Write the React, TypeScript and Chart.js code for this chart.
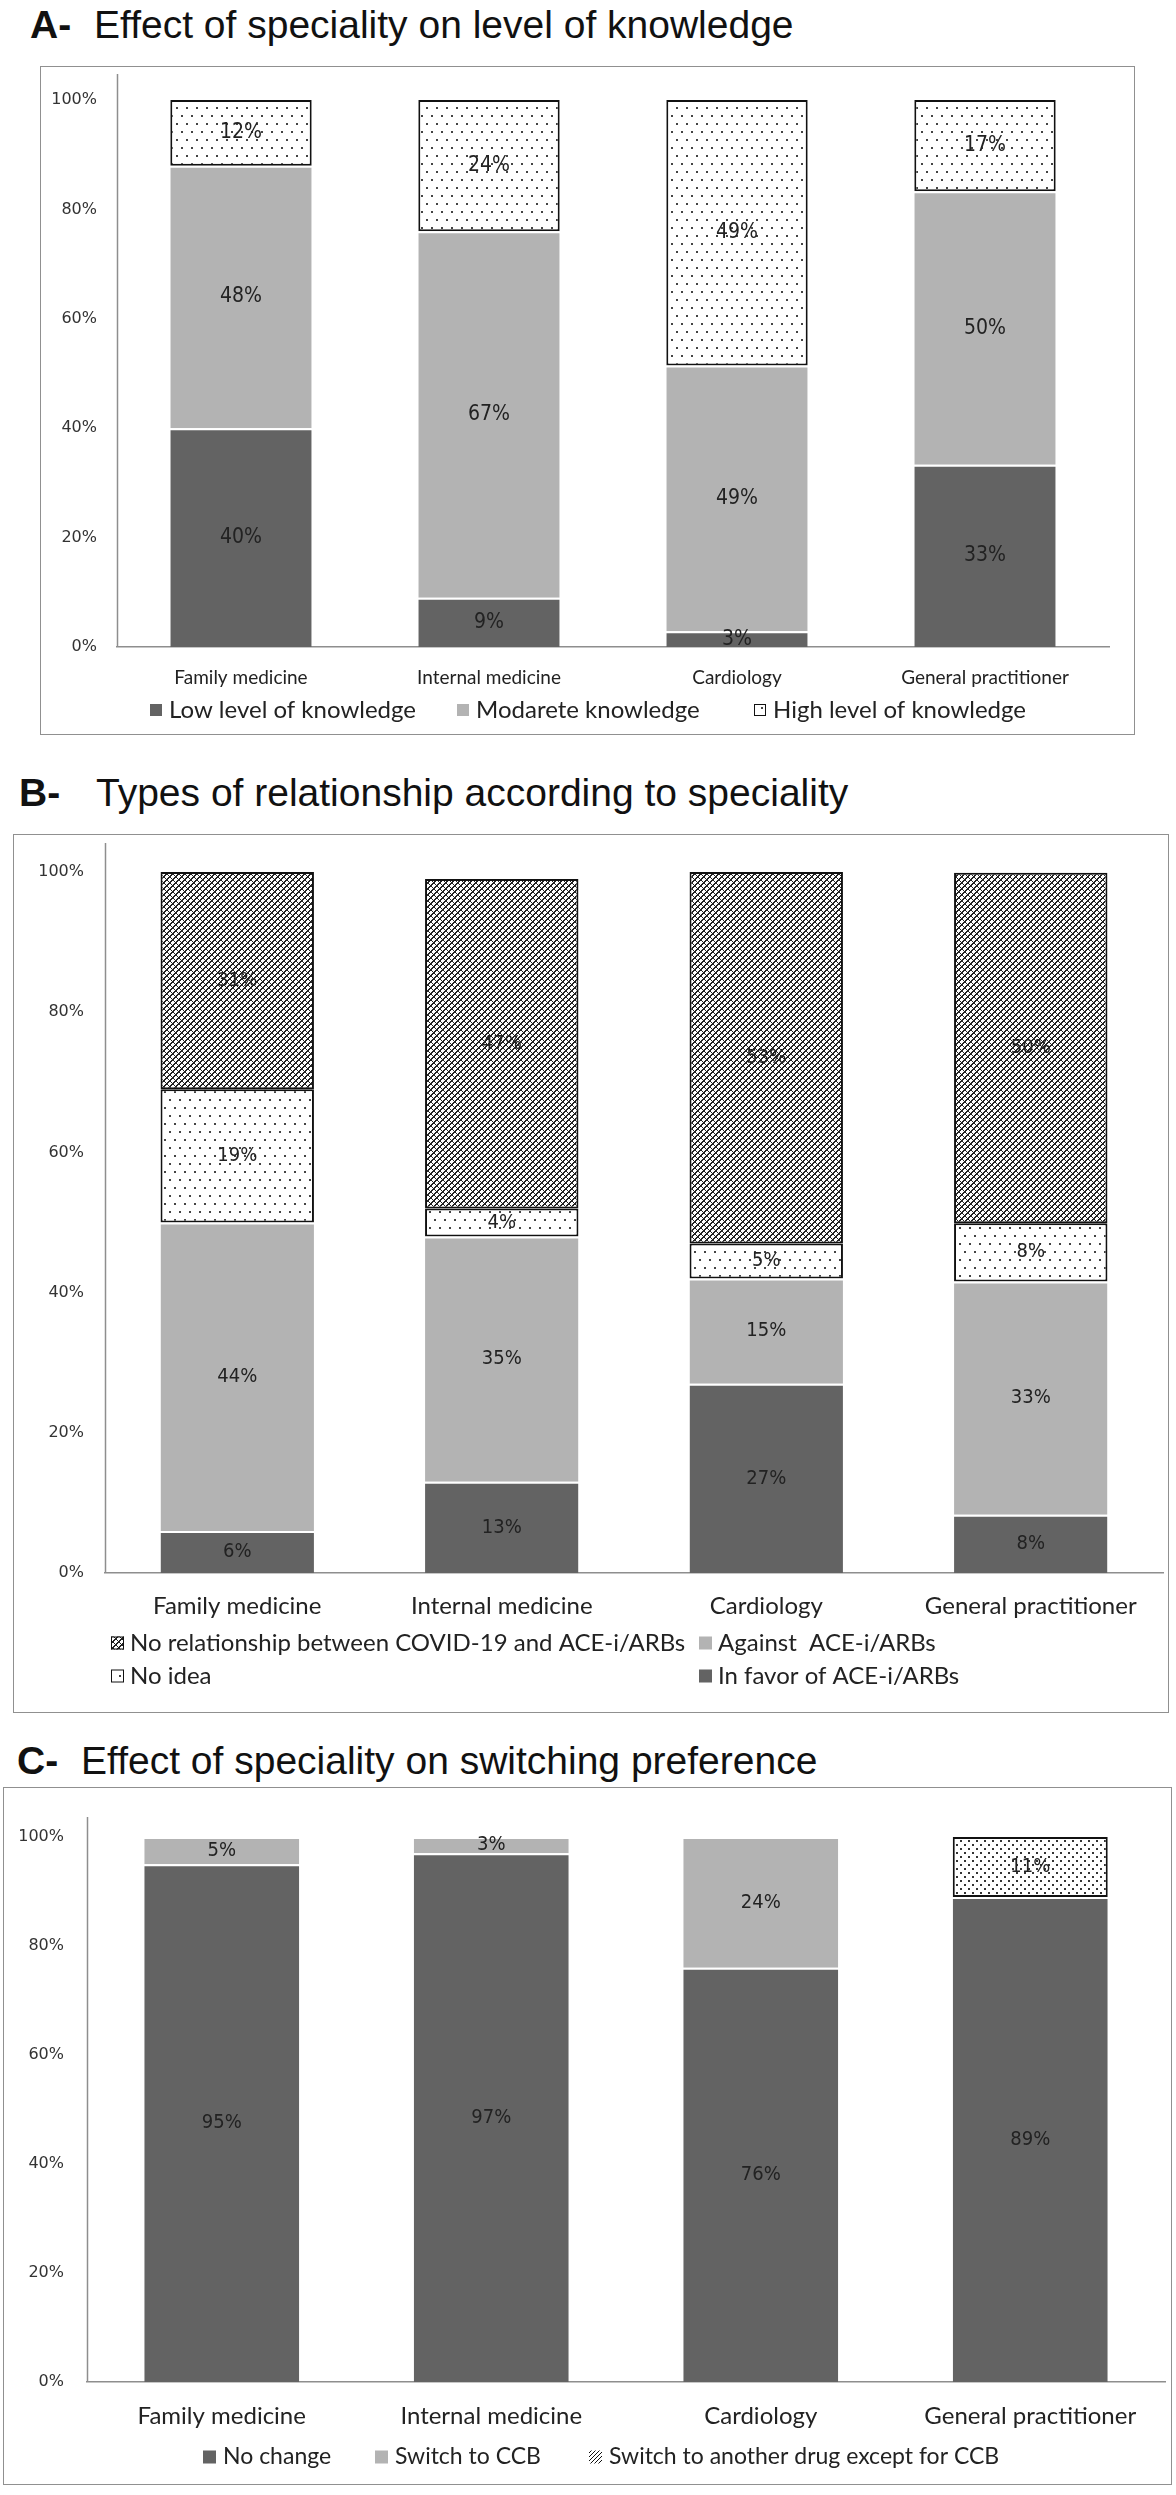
import React, { useEffect, useRef } from 'react';
import { Chart, registerables } from 'chart.js';

Chart.register(...registerables);

// ---------- shared data ----------
const categories = ['Family medicine', 'Internal medicine', 'Cardiology', 'General practitioner'];
const yTickLabels = ['0%', '20%', '40%', '60%', '80%', '100%'];

// ---------- Panel A : level of knowledge (%) ----------
const knowLow = [40, 9, 2.9, 33.3];
const knowModerate = [48, 67, 48.6, 50];
const knowHigh = [12, 24, 48.6, 16.7];
const knowLegend = ['Low level of knowledge', 'Modarete knowledge', 'High level of knowledge'];

// ---------- Panel B : type of relationship (%) ----------
const relInFavor = [6, 13, 27, 8.3];
const relAgainst = [44, 35, 15, 33.3];
const relNoIdea = [19, 4, 5, 8.3];
const relNoRelationship = [31, 47, 53, 50];
const relLegend = [
  'No relationship between COVID-19 and ACE-i/ARBs',
  'Against  ACE-i/ARBs',
  'No idea',
  'In favor of ACE-i/ARBs',
];

// ---------- Panel C : switching preference (%) ----------
const swNoChange = [95, 97, 76, 89];
const swCCB = [5, 3, 24, 0];
const swOther = [0, 0, 0, 11];
const swLegend = ['No change', 'Switch to CCB', 'Switch to another drug except for CCB'];

// ---------- styles ----------
const DARK = '#636363';
const LIGHT = '#b3b3b3';
const TEXT = '#222222';
const AXIS = '#8e8e8e';

function makeTile(w: number, h: number, draw: (g: CanvasRenderingContext2D) => void) {
  const c = document.createElement('canvas');
  c.width = w;
  c.height = h;
  const g = c.getContext('2d')!;
  draw(g);
  return c;
}

function dotPattern(ctx: CanvasRenderingContext2D, sx: number, sy: number, size: number, color: string) {
  const tile = makeTile(sx, sy * 2, (g) => {
    g.fillStyle = '#ffffff';
    g.fillRect(0, 0, sx, sy * 2);
    g.fillStyle = color;
    g.fillRect(1, 1, size, size);
    g.fillRect(1 + sx / 2, 1 + sy, size, size);
  });
  return ctx.createPattern(tile, 'repeat')!;
}

function crossPattern(ctx: CanvasRenderingContext2D) {
  const p = 6;
  const tile = makeTile(p, p, (g) => {
    g.fillStyle = '#ffffff';
    g.fillRect(0, 0, p, p);
    g.fillStyle = '#222222';
    for (let x = 0; x < p; x++) {
      for (let y = 0; y < p; y++) {
        if ((x + y) % p < 2 || (x - y + 2 * p) % p < 1) g.fillRect(x, y, 1, 1);
      }
    }
  });
  return ctx.createPattern(tile, 'repeat')!;
}

function diagPattern(ctx: CanvasRenderingContext2D) {
  const p = 4;
  const tile = makeTile(p, p, (g) => {
    g.fillStyle = '#ffffff';
    g.fillRect(0, 0, p, p);
    g.fillStyle = '#111111';
    for (let x = 0; x < p; x++) {
      for (let y = 0; y < p; y++) {
        if ((x + y) % p === p - 1) g.fillRect(x, y, 1, 1);
      }
    }
  });
  return ctx.createPattern(tile, 'repeat')!;
}

// ---------- plugins ----------
const segmentLabels = {
  id: 'segmentLabels',
  afterDatasetsDraw(chart: any, _a: any, opts: any) {
    const { ctx } = chart;
    ctx.save();
    ctx.font = opts.font;
    ctx.fillStyle = opts.color;
    ctx.textAlign = 'center';
    ctx.textBaseline = 'middle';
    chart.data.datasets.forEach((ds: any, i: number) => {
      const meta = chart.getDatasetMeta(i);
      meta.data.forEach((el: any, j: number) => {
        const v = Math.round(ds.labelValues[j]);
        if (!v) return;
        const { x, y, base } = el.getProps(['x', 'y', 'base'], true);
        ctx.fillText(v + '%', x, (y + base) / 2 + (opts.dy || 0));
      });
    });
    ctx.restore();
  },
};

const axisLine = {
  id: 'axisLine',
  afterDraw(chart: any, _a: any, opts: any) {
    const { ctx, chartArea } = chart;
    ctx.save();
    ctx.strokeStyle = opts.color;
    ctx.lineWidth = opts.width;
    ctx.beginPath();
    const x = Math.round(chartArea.left) + 0.5;
    ctx.moveTo(x, chartArea.top - opts.extend);
    ctx.lineTo(x, chartArea.bottom);
    ctx.stroke();
    ctx.restore();
  },
};

type LegendItem = { dataset: number; text: string; x: number; y: number; outline?: boolean; swatch?: any };

function makeLegend(font: string, box: number, gap: number, items: LegendItem[]) {
  return {
    id: 'gridLegend',
    afterDraw(chart: any) {
      const { ctx } = chart;
      ctx.save();
      ctx.font = font;
      ctx.textBaseline = 'middle';
      ctx.textAlign = 'left';
      items.forEach((it) => {
        const ds = chart.data.datasets[it.dataset];
        ctx.fillStyle = it.swatch ? it.swatch : ds.backgroundColor;
        ctx.fillRect(it.x, it.y - box / 2, box, box);
        if (it.outline) {
          ctx.strokeStyle = '#111111';
          ctx.lineWidth = 1;
          ctx.strokeRect(it.x + 0.5, it.y - box / 2 + 0.5, box - 1, box - 1);
        }
        ctx.fillStyle = TEXT;
        ctx.fillText(it.text, it.x + box + gap, it.y);
      });
      ctx.restore();
    },
  };
}

function solidSet(label: string, values: number[], shown: number[], color: string) {
  return {
    label,
    data: values,
    labelValues: shown,
    backgroundColor: color,
    borderColor: '#ffffff',
    borderWidth: { top: 2, left: 0, right: 0, bottom: 0 },
    borderSkipped: false,
  };
}

function patternSet(label: string, values: number[], shown: number[], pattern: CanvasPattern) {
  return {
    label,
    data: values,
    labelValues: shown,
    backgroundColor: pattern,
    borderColor: '#111111',
    borderWidth: 2,
    borderSkipped: false,
  };
}

function baseOptions(p: any) {
  return {
    responsive: false,
    maintainAspectRatio: false,
    animation: false,
    layout: { padding: { top: p.padTop, right: p.padRight, left: 0, bottom: 0 } },
    datasets: { bar: { categoryPercentage: 1, barPercentage: p.barPct } },
    plugins: {
      legend: { display: false },
      tooltip: { enabled: false },
      title: { display: false },
      segmentLabels: { font: p.labelFont, color: TEXT, dy: 0 },
      axisLine: { color: AXIS, width: 1.5, extend: p.axisExt },
    },
    scales: {
      x: {
        stacked: true,
        grid: { display: false, drawTicks: false },
        border: { display: true, color: AXIS, width: 1.5 },
        ticks: {
          font: { family: 'Lato', size: p.catSize },
          color: TEXT,
          padding: p.xPad,
          maxRotation: 0,
          autoSkip: false,
        },
        afterFit: (s: any) => {
          s.height = p.xHeight;
        },
      },
      y: {
        stacked: true,
        min: 0,
        max: 100,
        grid: { display: false, drawTicks: false },
        border: { display: false },
        ticks: {
          stepSize: 20,
          callback: (_v: any, i: number) => yTickLabels[i],
          font: { family: 'DejaVu Sans', size: 16 },
          color: '#333333',
          padding: p.yPad,
        },
        afterFit: (s: any) => {
          s.width = p.yWidth;
        },
      },
    },
  };
}

// ---------- chart configs ----------
function buildA(ctx: CanvasRenderingContext2D) {
  const totals = categories.map((_, i) => knowLow[i] + knowModerate[i] + knowHigh[i]);
  const share = (arr: number[]) => arr.map((v, i) => (v / totals[i]) * 100);
  const dots = dotPattern(ctx, 10, 8, 2, '#444444');
  return {
    type: 'bar',
    data: {
      labels: categories,
      datasets: [
        solidSet(knowLegend[0], share(knowLow), knowLow, DARK),
        solidSet(knowLegend[1], share(knowModerate), knowModerate, LIGHT),
        patternSet(knowLegend[2], share(knowHigh), knowHigh, dots),
      ],
    },
    options: baseOptions({
      padTop: 34,
      padRight: 26,
      yWidth: 77,
      xHeight: 88,
      xPad: 19,
      yPad: 20,
      catSize: 19,
      barPct: 0.57,
      axisExt: 26,
      labelFont: '21px "DejaVu Sans Condensed", "DejaVu Sans", sans-serif',
    }),
    plugins: [
      segmentLabels,
      axisLine,
      makeLegend('24px Lato, sans-serif', 12, 7, [
        { dataset: 0, text: knowLegend[0], x: 110, y: 644 },
        { dataset: 1, text: knowLegend[1], x: 417, y: 644 },
        { dataset: 2, text: knowLegend[2], x: 714, y: 644, outline: true },
      ]),
    ],
  };
}

function buildB(ctx: CanvasRenderingContext2D) {
  const dots = dotPattern(ctx, 10, 8, 2, '#444444');
  const cross = crossPattern(ctx);
  return {
    type: 'bar',
    data: {
      labels: categories,
      datasets: [
        solidSet(relLegend[3], relInFavor, relInFavor, DARK),
        solidSet(relLegend[1], relAgainst, relAgainst, LIGHT),
        patternSet(relLegend[2], relNoIdea, relNoIdea, dots),
        patternSet(relLegend[0], relNoRelationship, relNoRelationship, cross),
      ],
    },
    options: baseOptions({
      padTop: 38,
      padRight: 6,
      yWidth: 92,
      xHeight: 140,
      xPad: 19,
      yPad: 21,
      catSize: 24,
      barPct: 0.58,
      axisExt: 29,
      labelFont: '20px "DejaVu Sans Condensed", "DejaVu Sans", sans-serif',
    }),
    plugins: [
      segmentLabels,
      axisLine,
      makeLegend('24px Lato, sans-serif', 13, 6, [
        { dataset: 3, text: relLegend[0], x: 98, y: 809, outline: true },
        { dataset: 1, text: relLegend[1], x: 686, y: 809 },
        { dataset: 2, text: relLegend[2], x: 98, y: 842, outline: true },
        { dataset: 0, text: relLegend[3], x: 686, y: 842 },
      ]),
    ],
  };
}

function buildC(ctx: CanvasRenderingContext2D) {
  const dots = dotPattern(ctx, 8, 4, 2, '#333333');
  const diag = diagPattern(ctx);
  return {
    type: 'bar',
    data: {
      labels: categories,
      datasets: [
        solidSet(swLegend[0], swNoChange, swNoChange, DARK),
        solidSet(swLegend[1], swCCB, swCCB, LIGHT),
        patternSet(swLegend[2], swOther, swOther, dots),
      ],
    },
    options: baseOptions({
      padTop: 50,
      padRight: 7,
      yWidth: 84,
      xHeight: 103,
      xPad: 20,
      yPad: 23,
      catSize: 24,
      barPct: 0.575,
      axisExt: 20,
      labelFont: '20px "DejaVu Sans Condensed", "DejaVu Sans", sans-serif',
    }),
    plugins: [
      segmentLabels,
      axisLine,
      makeLegend('23px Lato, sans-serif', 13, 7, [
        { dataset: 0, text: swLegend[0], x: 200, y: 670 },
        { dataset: 1, text: swLegend[1], x: 372, y: 670 },
        { dataset: 2, text: swLegend[2], x: 586, y: 670, swatch: diag },
      ]),
    ],
  };
}

// ---------- components ----------
function ChartBox(props: { left: number; top: number; width: number; height: number; build: (c: CanvasRenderingContext2D) => any }) {
  const ref = useRef<HTMLCanvasElement>(null);
  useEffect(() => {
    const canvas = ref.current!;
    const ctx = canvas.getContext('2d')!;
    const chart = new Chart(ctx, props.build(ctx));
    return () => chart.destroy();
  }, []);
  const { left, top, width, height } = props;
  return (
    <>
      <canvas ref={ref} width={width} height={height} style={{ position: 'absolute', left, top, width, height }} />
      <div
        style={{
          position: 'absolute',
          left,
          top,
          width,
          height,
          border: '1.5px solid #909090',
          boxSizing: 'border-box',
          pointerEvents: 'none',
        }}
      />
    </>
  );
}

function Title(props: { tag: string; text: string; tagX: number; textX: number; cy: number; size: number }) {
  const common: React.CSSProperties = {
    position: 'absolute',
    top: props.cy - props.size / 2,
    fontFamily: '"Liberation Sans", Arial, sans-serif',
    fontSize: props.size,
    lineHeight: 1,
    whiteSpace: 'nowrap',
    color: '#111',
  };
  return (
    <>
      <span style={{ ...common, left: props.tagX, fontWeight: 'bold' }}>{props.tag}</span>
      <span style={{ ...common, left: props.textX }}>{props.text}</span>
    </>
  );
}

export default function App() {
  return (
    <div style={{ position: 'absolute', left: 0, top: 0, width: 1176, height: 2495, background: '#ffffff', overflow: 'hidden' }}>
      <Title tag="A-" text="Effect of speciality on level of knowledge" tagX={30} textX={94} cy={24} size={39} />
      <ChartBox left={40} top={66} width={1095} height={669} build={buildA} />

      <Title tag="B-" text="Types of relationship according to speciality" tagX={19} textX={96} cy={792} size={39} />
      <ChartBox left={13} top={834} width={1156} height={879} build={buildB} />

      <Title tag="C-" text="Effect of speciality on switching preference" tagX={17} textX={81} cy={1760} size={39} />
      <ChartBox left={3} top={1787} width={1169} height={698} build={buildC} />
    </div>
  );
}
